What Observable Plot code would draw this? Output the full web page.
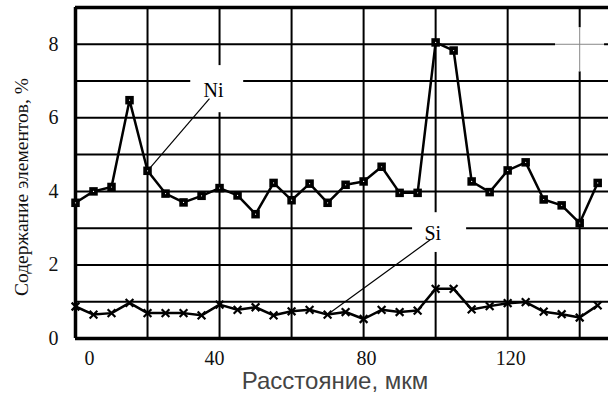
<!DOCTYPE html>
<html><head><meta charset="utf-8">
<script src="https://cdn.jsdelivr.net/npm/d3@7"></script>
<script src="https://cdn.jsdelivr.net/npm/@observablehq/plot@0.6"></script>
<style>body{margin:0;background:#fff}</style>
</head><body><div id="chart"></div>
<script>
const distance = [0,5,10,15,20,25,30,35,40,45,50,55,60,65,70,75,80,85,90,95,100,105,110,115,120,125,130,135,140,145];
const ni = [3.69,4.0,4.12,6.48,4.56,3.94,3.70,3.88,4.09,3.89,3.38,4.23,3.76,4.21,3.69,4.18,4.27,4.67,3.96,3.96,8.05,7.83,4.27,3.98,4.57,4.79,3.78,3.62,3.14,4.23];
const si = [0.87,0.65,0.69,0.97,0.69,0.69,0.69,0.63,0.92,0.78,0.85,0.63,0.74,0.78,0.65,0.72,0.53,0.78,0.72,0.76,1.35,1.35,0.79,0.88,0.96,0.99,0.73,0.66,0.57,0.90];
const xTicks = [0,40,80,120];
const yTicks = [0,2,4,6,8];
const xGrid = [0,20,40,60,80,100,120,140];
const yGrid = [0,1,2,3,4,5,6,7,8,9];
const labels = ["Ni","Si"];

const rows = distance.map((d,i)=>({d, ni: ni[i], si: si[i]}));
const serif = "'Liberation Serif', 'Times New Roman', serif";
const sans = "'Liberation Sans', Arial, sans-serif";

const chart = Plot.plot({
  width: 608, height: 393,
  marginLeft: 75, marginTop: 7, marginBottom: 55, marginRight: 0,
  x: {domain: [0, 148]},
  y: {domain: [0, 9]},
  style: {fontFamily: serif, fontSize: "20px", color: "#111", background: "#fff"},
  marks: [
    Plot.ruleX(xGrid, {stroke: "#000", strokeWidth: 2}),
    Plot.ruleY(yGrid, {stroke: "#000", strokeWidth: 2}),
    Plot.ruleY([0, 9], {stroke: "#000", strokeWidth: 3.5}),
    Plot.ruleX([0], {stroke: "#000", strokeWidth: 3.5}),
    // label gaps
    Plot.rect([labels[0]], {x1: 32, x2: 46.7, y1: 6.14, y2: 7.42, fill: "#fff"}),
    Plot.rect([labels[1]], {x1: 93.6, x2: 108.6, y1: 2.34, y2: 3.42, fill: "#fff"}),
    // crosshair artifact top-right
    Plot.rect([0], {x1: 133.3, x2: 146.9, y1: 7.25, y2: 8.45, fill: "#fff"}),
    Plot.ruleY([8], {x1: 133.3, x2: 146.9, stroke: "#888", strokeWidth: 1}),
    Plot.ruleX([140], {y1: 7.25, y2: 8.45, stroke: "#888", strokeWidth: 1}),
    // leaders
    Plot.link([labels[0]], {x1: 37.2, y1: 6.52, x2: 20, y2: ni[4], stroke: "#000", strokeWidth: 1.2}),
    Plot.link([labels[1]], {x1: 98.6, y1: 2.69, x2: 70, y2: si[14], stroke: "#000", strokeWidth: 1.2}),
    Plot.text([labels[0]], {x: 38.3, y: 6.74, text: d => d, fontSize: 20, fill: "#000"}),
    Plot.text([labels[1]], {x: 99.2, y: 2.85, text: d => d, fontSize: 20, fill: "#000"}),
    // data
    Plot.line(rows, {x: "d", y: "ni", stroke: "#000", strokeWidth: 2.5}),
    Plot.dot(rows, {x: "d", y: "ni", symbol: "square", r: 4.8, fill: "#000"}),
    Plot.dot(rows, {x: "d", y: "ni", r: 0.6, fill: "#fff"}),
    Plot.line(rows, {x: "d", y: "si", stroke: "#000", strokeWidth: 2.5}),
    Plot.dot(rows, {x: "d", y: "si", symbol: "times", r: 3.6, stroke: "#000", strokeWidth: 2.2}),
    // axes
    Plot.axisX([xTicks[0]], {tickSize: 0, tickPadding: 12, dx: 14, fontSize: 20, label: null}),
    Plot.axisX([xTicks[1]], {tickSize: 0, tickPadding: 12, dx: -5, fontSize: 20, label: null}),
    Plot.axisX(xTicks.slice(2), {tickSize: 0, tickPadding: 12, dx: 3, fontSize: 20, label: null}),
    Plot.axisY(yTicks, {tickSize: 0, tickPadding: 17, fontSize: 20, label: null}),
    Plot.text(["Содержание элементов, %"], {frameAnchor: "left", textAnchor: "middle", lineAnchor: "middle", text: d => d, rotate: -90, dx: -54, dy: 14, fontSize: 19.5, fill: "#111"}),
    Plot.text(["Расстояние, мкм"], {frameAnchor: "bottom", textAnchor: "middle", lineAnchor: "middle", text: d => d, dx: -7, dy: 43, fontSize: 24, fill: "#444"})
  ]
});
chart.querySelectorAll("text").forEach(t => {
  const f = t.textContent === "Расстояние, мкм" ? sans : serif;
  t.setAttribute("font-family", f);
  t.style.fontFamily = f;
});
document.getElementById("chart").appendChild(chart);
</script>
</body></html>
